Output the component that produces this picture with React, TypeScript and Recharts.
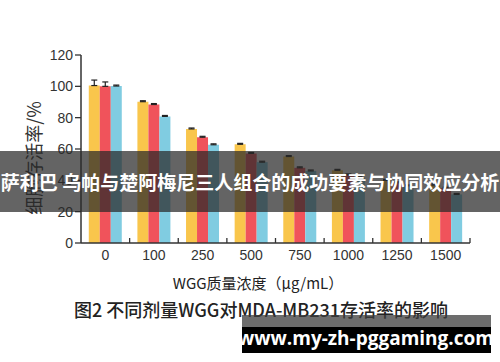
import React from "react";
import { BarChart, Bar, XAxis, YAxis, ErrorBar } from "recharts";

const categories = ["0", "100", "250", "500", "750", "1000", "1250", "1500"];
const yellowValues = [100.5, 90.2, 72.8, 63, 55.2, 46.4, 40, 37];
const redValues = [100, 88.4, 67.5, 57.2, 48, 43.5, 38.5, 35];
const blueValues = [100.2, 80.8, 62.7, 51.6, 46, 41.7, 36.5, 31];
const yellowErr = [3.5, 0.6, 0.6, 0.6, 0.6, 0.6, 0.6, 0.6];
const redErr = [2.8, 0.6, 0.6, 0.6, 0.6, 0.6, 0.6, 0.6];
const blueErr = [0.6, 0.6, 0.6, 0.6, 0.6, 0.6, 0.6, 0.6];
const yTicks = [0, 20, 40, 60, 80, 100, 120];

const data = categories.map((c, i) => ({
  dose: c,
  yellow: yellowValues[i],
  red: redValues[i],
  blue: blueValues[i],
  yellowE: [0, yellowErr[i]],
  redE: [0, redErr[i]],
  blueE: [0, blueErr[i]],
}));

const W = 500;
const H = 362;
const M = { top: 55, right: 30, left: 0, bottom: 89 };
const Y_W = 81;
const BAND = (W - M.right - M.left - Y_W) / categories.length;

const XTick = ({ x, y, payload }: any) => (
  <g>
    <text x={x} y={y + 17} textAnchor="middle" fontSize={14} fill="#333" fontFamily="'Liberation Sans', Arial, sans-serif">
      {payload.value}
    </text>
    <line x1={x + BAND / 2} x2={x + BAND / 2} y1={y} y2={y - 5} stroke="#333" strokeWidth={1.3} />
  </g>
);

export default function App() {
  return (
    <div style={{ position: "absolute", left: 0, top: 0, width: W, height: H, background: "#fff", overflow: "hidden" }}>
      <BarChart width={W} height={H} data={data} margin={M} barCategoryGap="16%" barGap={0}>
        <XAxis
          dataKey="dose"
          tick={<XTick />}
          tickLine={false}
          tickSize={0}
          tickMargin={0}
          height={30}
          axisLine={{ stroke: "#333", strokeWidth: 1.5 }}
        />
        <YAxis
          domain={[0, 120]}
          ticks={yTicks}
          width={Y_W}
          tick={{ fontSize: 14, fill: "#333", fontFamily: "'Liberation Sans', Arial, sans-serif" }}
          tickLine={{ stroke: "#333", strokeWidth: 1.3 }}
          tickSize={6}
          axisLine={{ stroke: "#333", strokeWidth: 1.5 }}
        />
        <Bar dataKey="yellow" fill="#F9C64C" isAnimationActive={false}>
          <ErrorBar dataKey="yellowE" width={3} stroke="#222" strokeWidth={1.2} />
        </Bar>
        <Bar dataKey="red" fill="#F0535B" isAnimationActive={false}>
          <ErrorBar dataKey="redE" width={3} stroke="#222" strokeWidth={1.2} />
        </Bar>
        <Bar dataKey="blue" fill="#80CCE1" isAnimationActive={false}>
          <ErrorBar dataKey="blueE" width={3} stroke="#222" strokeWidth={1.2} />
        </Bar>
      </BarChart>

      {/* y axis title */}
      <div
        style={{
          position: "absolute",
          left: 33,
          top: 158,
          transform: "translate(-50%, -50%) rotate(-90deg)",
          whiteSpace: "nowrap",
          fontSize: 18,
          color: "#333",
          fontFamily: "'Noto Sans CJK SC', sans-serif",
        }}
      >
        细胞存活率/%
      </div>

      {/* x axis title */}
      <div
        style={{
          position: "absolute",
          left: 258,
          top: 282,
          transform: "translate(-50%, -50%)",
          whiteSpace: "nowrap",
          fontSize: 15,
          color: "#222",
          fontFamily: "'Noto Sans CJK SC', sans-serif",
        }}
      >
        WGG质量浓度（μg/mL）
      </div>

      {/* caption */}
      <div
        style={{
          position: "absolute",
          left: 261,
          top: 309,
          transform: "translate(-50%, -50%)",
          whiteSpace: "nowrap",
          fontSize: 18,
          fontWeight: 500,
          color: "#222",
          fontFamily: "'Noto Sans CJK SC', sans-serif",
        }}
      >
        图2 不同剂量WGG对MDA-MB231存活率的影响
      </div>

      {/* grey overlay band */}
      <div style={{ position: "absolute", left: 0, top: 151, width: W, height: 61, background: "rgba(40,40,40,0.72)" }} />
      <div
        style={{
          position: "absolute",
          left: 250,
          top: 181,
          transform: "translate(-50%, -50%)",
          whiteSpace: "nowrap",
          fontSize: 19,
          fontWeight: 700,
          color: "#fff",
          fontFamily: "'Noto Sans CJK SC', sans-serif",
        }}
      >
        萨利巴 乌帕与楚阿梅尼三人组合的成功要素与协同效应分析
      </div>

      {/* bottom banner */}
      <div style={{ position: "absolute", left: 242, top: 315, width: 249, height: 12, background: "rgba(60,60,60,0.75)" }} />
      <div style={{ position: "absolute", left: 242, top: 327, width: 249, height: 26, background: "#000" }} />
      <div
        style={{
          position: "absolute",
          left: 366,
          top: 338,
          transform: "translate(-50%, -50%)",
          whiteSpace: "nowrap",
          fontSize: 19,
          fontWeight: 700,
          color: "#fff",
          fontFamily: "'Open Sans', 'Noto Sans', sans-serif",
        }}
      >
        www.my-zh-pggaming.com
      </div>
    </div>
  );
}
